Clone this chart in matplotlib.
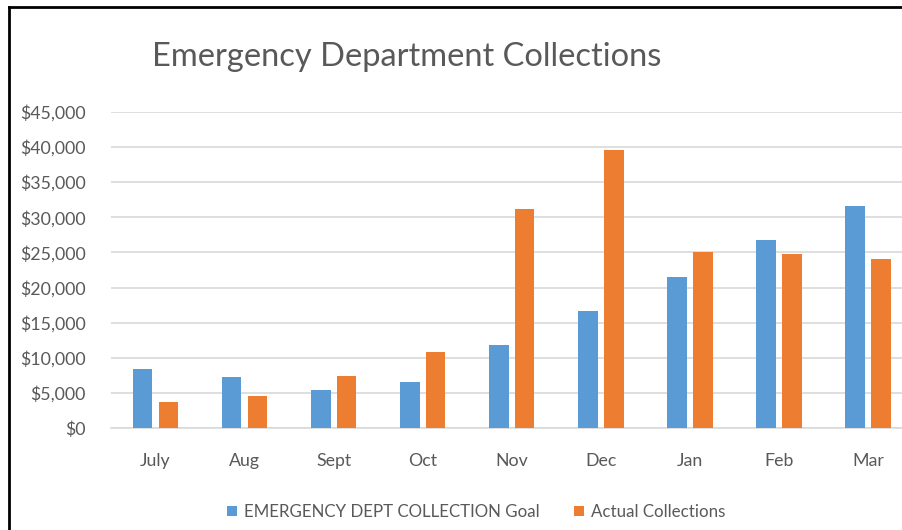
import matplotlib
matplotlib.use("Agg")
import matplotlib.pyplot as plt
from matplotlib.lines import Line2D
from matplotlib.patches import Patch
from matplotlib.ticker import FuncFormatter
import numpy as np

plt.rcParams['font.family'] = ['Lato', 'DejaVu Sans']

months = ["July", "Aug", "Sept", "Oct", "Nov", "Dec", "Jan", "Feb", "Mar"]
goal = [8400, 7300, 5500, 6600, 11800, 16700, 21500, 26700, 31600]
actual = [3700, 4600, 7500, 10900, 31200, 39600, 25000, 24800, 24000]
series_names = ["EMERGENCY DEPT COLLECTION Goal", "Actual Collections"]
title = "Emergency Department Collections"

BLUE = "#5B9BD5"
ORANGE = "#ED7D31"
GRID = "#D9D9D9"
TEXT = "#595959"

W, H = 902, 530
fig = plt.figure(figsize=(W / 100, H / 100), dpi=100)
fig.patch.set_facecolor("white")

# plot area in pixel terms (right side runs past the crop edge)
left, right = 111, 912.5
top, bottom = 111.7, 428.3
ax = fig.add_axes([left / W, 1 - bottom / H, (right - left) / W, (bottom - top) / H])

x = np.arange(len(months))
bw = 0.22
off = 0.145
ax.bar(x - off, goal, width=bw, color=BLUE, zorder=3)
ax.bar(x + off, actual, width=bw, color=ORANGE, zorder=3)

ax.set_xlim(-0.5, len(months) - 0.5)
ax.set_ylim(0, 45000)
ax.set_yticks(np.arange(0, 45001, 5000))
ax.yaxis.set_major_formatter(FuncFormatter(lambda v, p: f"${int(v):,}"))
ax.set_xticks(x)
ax.set_xticklabels(months)

ax.grid(axis="y", color=GRID, linewidth=1.2, zorder=0)
for s in ["top", "right", "left"]:
    ax.spines[s].set_visible(False)
ax.spines["bottom"].set_color(GRID)
ax.spines["bottom"].set_linewidth(1.2)
ax.tick_params(axis="both", length=0, colors=TEXT, labelsize=12.8)
ax.tick_params(axis="y", pad=18)
ax.tick_params(axis="x", pad=18)
ax.set_facecolor("white")

fig.text(152 / W, 1 - 57 / H, title, fontsize=23.5, color=TEXT, ha="left", va="center")

handles = [Patch(facecolor=BLUE), Patch(facecolor=ORANGE)]
fig.legend(handles, series_names, loc="center", bbox_to_anchor=(476 / W, 1 - 512 / H),
           ncol=2, frameon=False, fontsize=12.2, labelcolor=TEXT,
           handlelength=0.6, handleheight=0.6, handletextpad=0.4, columnspacing=2.0)

# outer frame of the chart box
fig.add_artist(Line2D([8.5 / W, 8.5 / W], [0, 1 - 7 / H], color="black", linewidth=2,
                      transform=fig.transFigure))
fig.add_artist(Line2D([8.5 / W, 1], [1 - 7 / H, 1 - 7 / H], color="black", linewidth=2,
                      transform=fig.transFigure))

fig.savefig("out.png", dpi=100)
